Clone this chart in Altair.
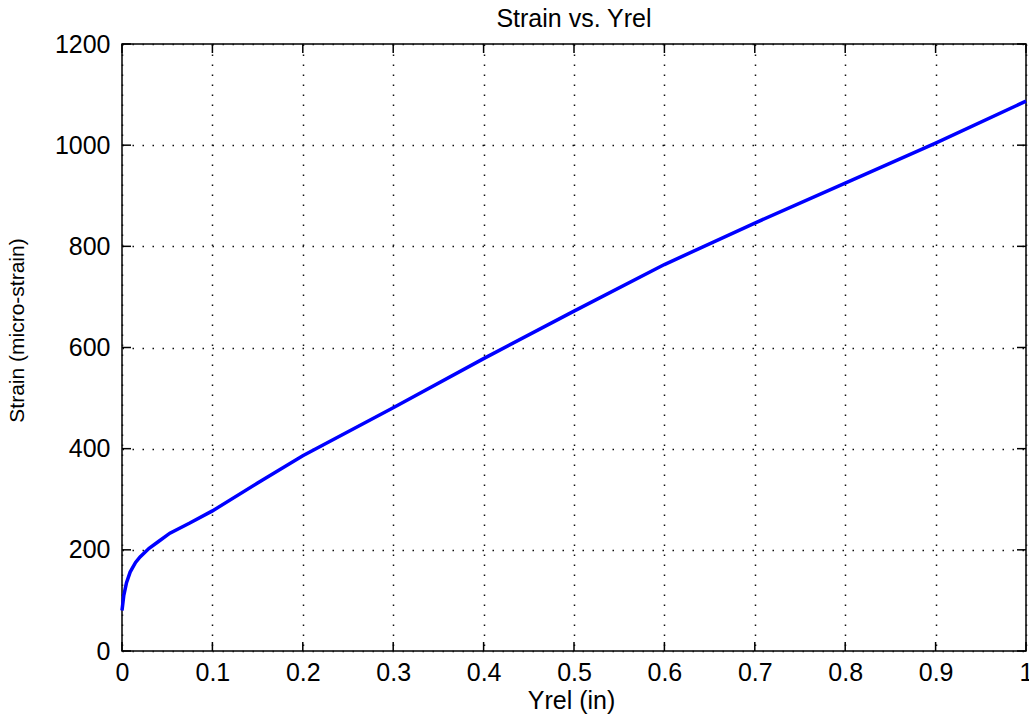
import altair as alt
import pandas as pd

# Measured strain against relative displacement
yrel = [0.0, 0.002, 0.005, 0.009, 0.015, 0.02, 0.03, 0.04, 0.053, 0.075,
        0.1, 0.15, 0.2, 0.3, 0.4, 0.5, 0.6, 0.7, 0.8, 0.9, 1.0]
strain = [80, 110, 135, 156, 175, 186, 203, 216, 233, 253,
          277, 332, 386, 481, 578, 672, 764, 846, 925, 1004, 1087]

x_ticks = [0.0, 0.1, 0.2, 0.3, 0.4, 0.5, 0.6, 0.7, 0.8, 0.9, 1.0]
y_ticks = [0, 200, 400, 600, 800, 1000, 1200]

W, H = 904, 607
TICK = 9
FONT = "Liberation Sans"

df = pd.DataFrame({"yrel": yrel, "strain": strain})
xt = pd.DataFrame({"yrel": x_ticks})
yt = pd.DataFrame({"strain": y_ticks})

x_scale = alt.Scale(domain=[0, 1], nice=False, zero=False)
y_scale = alt.Scale(domain=[0, 1200], nice=False)

x_axis = alt.Axis(
    values=x_ticks, format=".1~f", title="Yrel (in)",
    grid=True, gridDash=[1.5, 8.5], gridColor="#111111", gridWidth=1.5,
    ticks=False, tickSize=0, domain=False, labelFlush=False,
    labelFont=FONT, labelFontSize=25, labelColor="black", labelPadding=9,
    titleFont=FONT, titleFontSize=25, titleFontWeight="normal", titleColor="black",
    titleX=449, titleY=57, titleBaseline="alphabetic", titleAlign="center",
)
y_axis = alt.Axis(
    values=y_ticks, format="d", title="Strain (micro-strain)",
    grid=True, gridDash=[1.5, 8.5], gridColor="#111111", gridWidth=1.5,
    ticks=False, tickSize=0, domain=False, labelFlush=False,
    labelFont=FONT, labelFontSize=25, labelColor="black", labelPadding=12,
    titleFont=FONT, titleFontSize=21,
    titleFontWeight="normal", titleColor="black",
    titleAngle=270, titleX=-99, titleY=286, titleBaseline="alphabetic",
    titleAlign="center",
)

X = alt.X("yrel:Q", scale=x_scale, axis=x_axis)
Y = alt.Y("strain:Q", scale=y_scale, axis=y_axis)

curve = alt.Chart(df).mark_line(color="#0000ff", strokeWidth=3.5).encode(
    x=X, y=Y, order="yrel:Q",
)

# Inward tick marks on all four sides of the box
tick_style = dict(color="black", strokeWidth=1.5)
bottom_ticks = alt.Chart(xt).mark_rule(**tick_style).encode(
    x=X, y=alt.value(H), y2=alt.value(H - TICK),
)
top_ticks = alt.Chart(xt).mark_rule(**tick_style).encode(
    x=X, y=alt.value(0), y2=alt.value(TICK),
)
left_ticks = alt.Chart(yt).mark_rule(**tick_style).encode(
    y=Y, x=alt.value(0), x2=alt.value(TICK),
)
right_ticks = alt.Chart(yt).mark_rule(**tick_style).encode(
    y=Y, x=alt.value(W), x2=alt.value(W - TICK),
)

chart = alt.layer(
    curve, bottom_ticks, top_ticks, left_ticks, right_ticks
).properties(
    width=W, height=H,
    title=alt.TitleParams(
        "Strain vs. Yrel", font=FONT, fontSize=25, fontWeight="normal",
        color="black", anchor="middle", offset=0,
    ),
    autosize=alt.AutoSizeParams(type="none"),
    padding={"left": 122, "top": 44, "right": 3, "bottom": 66},
    background="white",
).configure_view(
    stroke="black", strokeWidth=1.5,
)

chart.save("out.html", embed_options={"renderer": "svg", "actions": False})
